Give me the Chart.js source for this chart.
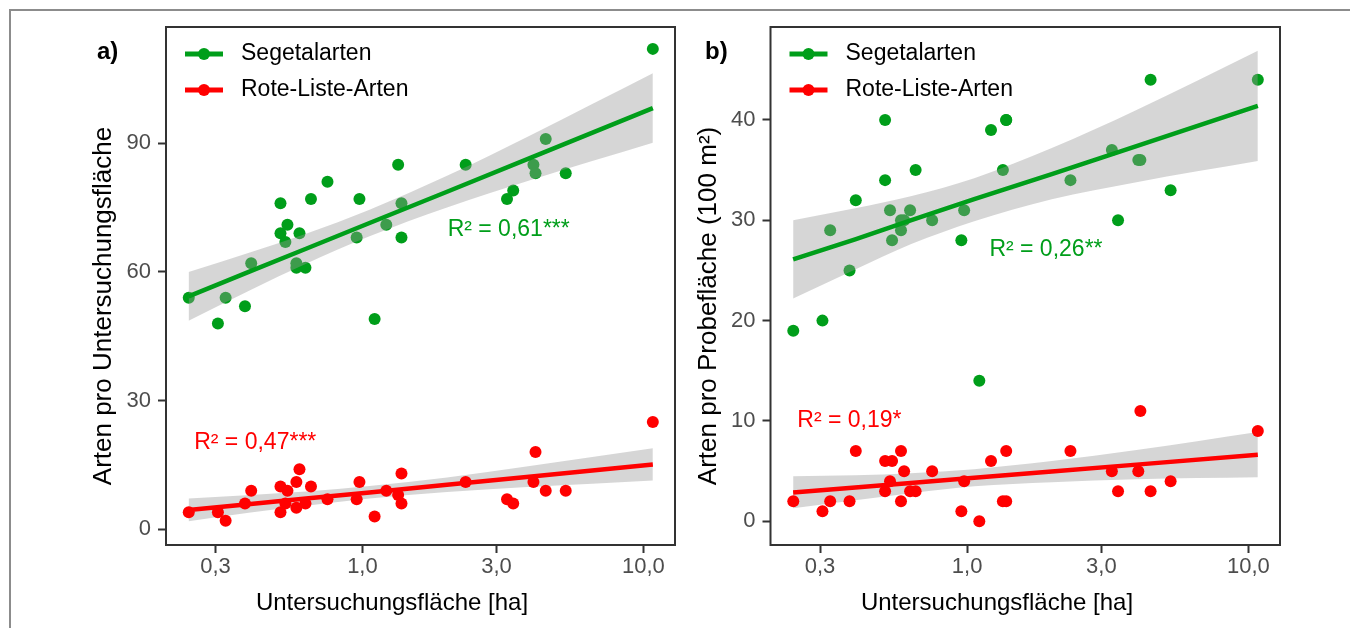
<!DOCTYPE html>
<html>
<head>
<meta charset="utf-8">
<script src="https://cdn.jsdelivr.net/npm/chart.js@4.4.0/dist/chart.umd.min.js"></script>
<style>
    html, body { margin: 0; padding: 0; background: #fff; }
    body { width: 1350px; height: 628px; position: relative; overflow: hidden; }
    #outer { position: absolute; left: 9px; top: 9px; width: 1400px; height: 700px;
             border-top: 2px solid #8c8c8c; border-left: 2px solid #8c8c8c; }
    canvas { position: absolute; top: 0; }
    #chartA { left: 0; }
    #chartB { left: 690px; }
</style>
</head>
<body>
<div id="outer"></div>
<canvas id="chartA" width="690" height="628"></canvas>
<canvas id="chartB" width="660" height="628"></canvas>
<script>
// Untersuchungsfläche [ha] der 30 Flächen (gleiche Flächen in a und b)
const areaHa = [0.241, 0.306, 0.326, 0.382, 0.402, 0.511, 0.511, 0.532, 0.541, 0.582,
                0.582, 0.597, 0.627, 0.656, 0.751, 0.954, 0.976, 1.105, 1.216, 1.34,
                1.377, 1.377, 2.33, 3.27, 3.44, 4.06, 4.13, 4.49, 5.29, 10.8];

// a) Arten pro Untersuchungsfläche
const segetalA = [54, 48, 54, 52, 62, 76, 69, 67, 71, 62, 61, 69, 61, 77, 81,
                  68, 77, 49, 71, 85, 76, 68, 85, 77, 79, 85, 83, 91, 83, 112];
const roteListeA = [4, 4, 2, 6, 9, 10, 4, 6, 9, 11, 5, 14, 6, 10, 7,
                    7, 11, 3, 9, 8, 13, 6, 11, 7, 6, 11, 18, 9, 9, 25];

// b) Arten pro Probefläche (100 m²)
const segetalB = [19, 20, 29, 25, 32, 40, 34, 31, 28, 29, 30, 30, 31, 35, 30,
                  28, 31, 14, 39, 35, 40, 40, 34, 37, 30, 36, 36, 44, 33, 44];
const roteListeB = [2, 1, 2, 2, 7, 6, 3, 4, 6, 7, 2, 5, 3, 3, 5,
                    1, 4, 0, 6, 2, 7, 2, 7, 5, 3, 5, 11, 3, 4, 9];

const fitX = [0.2407, 0.4, 0.63, 1.06, 2.0, 4.0, 10.8];
const fitSegA = [54.3, 60.2, 65.4, 71.4, 78.7, 86.7, 98.2];
const hiSegA = [60.0, 64.6, 68.9, 74.5, 82.4, 92.0, 106.3];
const loSegA = [48.6, 55.8, 61.9, 68.3, 75.0, 81.5, 90.1];
const fitRotA = [4.5, 5.9, 7.2, 8.6, 10.4, 12.3, 15.1];
const hiRotA = [7.2, 8.0, 8.8, 10.1, 12.1, 14.8, 18.9];
const loRotA = [1.9, 3.9, 5.5, 7.2, 8.7, 9.9, 11.4];
const fitSegB = [26.1, 28.1, 30.0, 32.1, 34.6, 37.4, 41.4];
const hiSegB = [30.0, 31.2, 32.4, 34.2, 37.2, 41.0, 46.9];
const loSegB = [22.2, 25.1, 27.6, 29.9, 32.1, 33.8, 35.9];
const fitRotB = [2.87, 3.37, 3.82, 4.34, 4.96, 5.65, 6.63];
const hiRotB = [4.5, 4.6, 4.8, 5.2, 6.0, 7.1, 8.9];
const loRotB = [1.3, 2.1, 2.8, 3.5, 3.9, 4.2, 4.4];

const xTicks = [0.3, 1, 3, 10];
const yTicksA = [0, 30, 60, 90];
const yTicksB = [0, 10, 20, 30, 40];

const seriesNames = ["Segetalarten", "Rote-Liste-Arten"];

const GREEN = "#009e1a";
const RED = "#ff0000";
const BAND = "rgba(153,153,153,0.4)";
const FONT = "'Liberation Sans', Arial, sans-serif";

function pts(xs, ys) {
    return xs.map((x, i) => ({ x: x, y: ys[i] }));
}

function fmt(v) {
    return Number(v).toFixed(1).replace(".", ",");
}

// Rahmen, Legende, Achsentitel und R²-Beschriftung
const decor = {
    id: "decor",
    afterDraw(chart, args, o) {
        const ctx = chart.ctx;
        const a = chart.chartArea;
        const sx = chart.scales.x, sy = chart.scales.y;
        ctx.save();

        ctx.strokeStyle = "#333";
        ctx.lineWidth = 2;
        ctx.strokeRect(a.left, a.top, a.right - a.left, a.bottom - a.top);

        // Panel-Buchstabe
        ctx.fillStyle = "#000";
        ctx.font = "bold 24px " + FONT;
        ctx.textAlign = "left";
        ctx.textBaseline = "middle";
        ctx.fillText(o.letter, o.letterX, 52);

        // Legende
        [GREEN, RED].forEach((c, i) => {
            const y = 54 + i * 36;
            ctx.strokeStyle = c;
            ctx.lineWidth = 5;
            ctx.beginPath();
            ctx.moveTo(a.left + 19, y);
            ctx.lineTo(a.left + 57, y);
            ctx.stroke();
            ctx.fillStyle = c;
            ctx.beginPath();
            ctx.arc(a.left + 38, y, 6, 0, Math.PI * 2);
            ctx.fill();
            ctx.fillStyle = "#000";
            ctx.font = "23px " + FONT;
            ctx.fillText(seriesNames[i], a.left + 75, y);
        });

        // R² Beschriftung
        ctx.font = "23px " + FONT;
        o.r2.forEach(r => {
            ctx.fillStyle = r.color;
            ctx.fillText(r.text, sx.getPixelForValue(r.x), sy.getPixelForValue(r.y));
        });

        // Achsentitel
        ctx.fillStyle = "#000";
        ctx.font = "24px " + FONT;
        ctx.textAlign = "center";
        ctx.textBaseline = "alphabetic";
        ctx.fillText("Untersuchungsfläche [ha]", o.xTitleX, 610);

        ctx.font = "26px " + FONT;
        ctx.translate(o.yTitleX, 306);
        ctx.rotate(-Math.PI / 2);
        ctx.textBaseline = "middle";
        ctx.fillText(o.yTitle, 0, 0);
        ctx.restore();
    }
};

function makePanel(id, p) {
    const bandOpts = { type: "line", pointRadius: 0, borderWidth: 0, cubicInterpolationMode: "monotone" };
    const lineOpts = { type: "line", pointRadius: 0, borderWidth: 4.5, fill: false };
    return new Chart(document.getElementById(id), {
        type: "scatter",
        data: {
            datasets: [
                { data: pts(areaHa, p.seg), backgroundColor: GREEN, pointRadius: 6, borderWidth: 0, order: 6 },
                { ...bandOpts, data: pts(fitX, p.hiSeg), fill: "+1", backgroundColor: BAND, order: 5 },
                { ...bandOpts, data: pts(fitX, p.loSeg), fill: false, order: 5 },
                { ...bandOpts, data: pts(fitX, p.hiRot), fill: "+1", backgroundColor: BAND, order: 4 },
                { ...bandOpts, data: pts(fitX, p.loRot), fill: false, order: 4 },
                { data: pts(areaHa, p.rot), backgroundColor: RED, pointRadius: 6, borderWidth: 0, order: 3 },
                { ...lineOpts, data: pts(fitX, p.fitSeg), borderColor: GREEN, order: 2 },
                { ...lineOpts, data: pts(fitX, p.fitRot), borderColor: RED, order: 1 },
            ],
        },
        options: {
            responsive: false,
            animation: false,
            devicePixelRatio: 1,
            layout: { padding: { top: 27, right: p.padRight, left: 0, bottom: 0 } },
            plugins: {
                legend: { display: false },
                tooltip: { enabled: false },
                decor: p.decor,
            },
            scales: {
                x: {
                    type: "logarithmic",
                    min: 0.2,
                    max: 12.95,
                    afterBuildTicks: s => { s.ticks = xTicks.map(v => ({ value: v })); },
                    afterFit: s => { s.height = 83; },
                    ticks: {
                        callback: v => fmt(v),
                        color: "#4d4d4d",
                        font: { size: 22, family: FONT },
                        padding: 1,
                        maxRotation: 0,
                        autoSkip: false,
                    },
                    grid: { drawOnChartArea: false, tickLength: 8, tickColor: "#333", tickWidth: 2 },
                    border: { display: false },
                },
                y: {
                    min: p.yMin,
                    max: p.yMax,
                    afterBuildTicks: s => { s.ticks = p.yTicks.map(v => ({ value: v })); },
                    afterFit: s => { s.width = p.yWidth; },
                    ticks: {
                        callback: v => v,
                        color: "#4d4d4d",
                        font: { size: 22, family: FONT },
                        padding: 7,
                    },
                    grid: { drawOnChartArea: false, tickLength: 8, tickColor: "#333", tickWidth: 2 },
                    border: { display: false },
                },
            },
        },
        plugins: [decor],
    });
}

makePanel("chartA", {
    seg: segetalA, rot: roteListeA,
    fitSeg: fitSegA, hiSeg: hiSegA, loSeg: loSegA,
    fitRot: fitRotA, hiRot: hiRotA, loRot: loRotA,
    yMin: -3.66, yMax: 117.1, yTicks: yTicksA,
    yWidth: 166, padRight: 15,
    decor: {
        letter: "a)", letterX: 97, xTitleX: 392, yTitleX: 104,
        yTitle: "Arten pro Untersuchungsfläche",
        r2: [
            { text: "R² = 0,61***", color: GREEN, x: 2.01, y: 69.8 },
            { text: "R² = 0,47***", color: RED, x: 0.252, y: 20.1 },
        ],
    },
});

makePanel("chartB", {
    seg: segetalB, rot: roteListeB,
    fitSeg: fitSegB, hiSeg: hiSegB, loSeg: loSegB,
    fitRot: fitRotB, hiRot: hiRotB, loRot: loRotB,
    yMin: -2.36, yMax: 49.26, yTicks: yTicksB,
    yWidth: 80.5, padRight: 70,
    decor: {
        letter: "b)", letterX: 15, xTitleX: 307, yTitleX: 18.5,
        yTitle: "Arten pro Probefläche (100 m²)",
        r2: [
            { text: "R² = 0,26**", color: GREEN, x: 1.2, y: 27.1 },
            { text: "R² = 0,19*", color: RED, x: 0.249, y: 10.0 },
        ],
    },
});
</script>
</body>
</html>
